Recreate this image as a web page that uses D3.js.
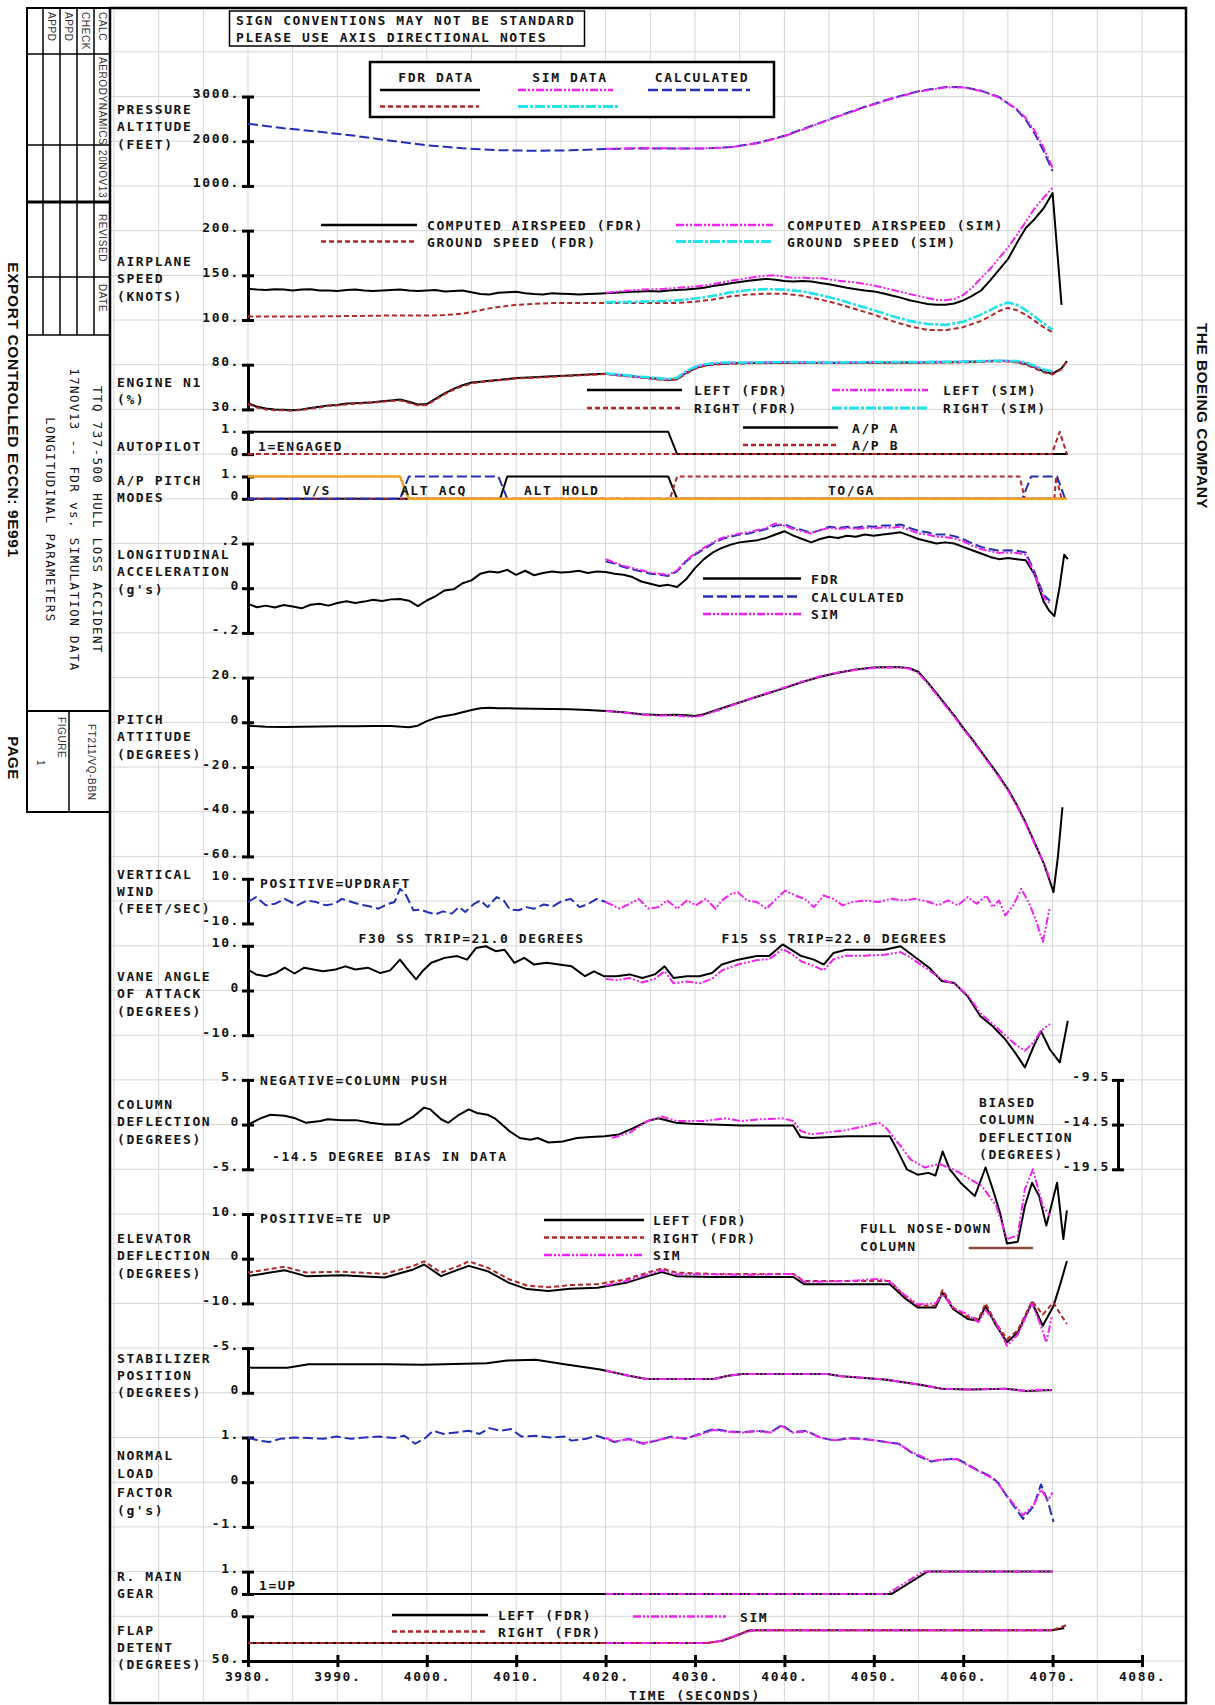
<!DOCTYPE html>
<html><head><meta charset="utf-8">
<script src="https://cdn.jsdelivr.net/npm/d3@7/dist/d3.min.js"></script>
<style>
html,body{margin:0;padding:0;background:#fff}
.t{font-family:'DejaVu Sans Mono',monospace;font-weight:bold;font-size:13px;letter-spacing:1.6px;fill:#141414}
.b{font-family:'Liberation Sans',Arial,sans-serif;font-weight:normal;fill:#333}
.h{font-family:'Liberation Sans',Arial,sans-serif;font-weight:bold;fill:#111}
</style></head><body>
<svg id="c" width="1215" height="1705" xmlns="http://www.w3.org/2000/svg"></svg>
<script>
// ---------------- DATA (time in seconds, value) ----------------
const xTicks=[3980,3990,4000,4010,4020,4030,4040,4050,4060,4070,4080];
const altTicks=[1000,2000,3000], spdTicks=[100,150,200], n1Ticks=[30,80], binTicks=[0,1];
const accTicks=[-0.2,0,0.2], pitchTicks=[-60,-40,-20,0,20], windTicks=[-10,10], aoaTicks=[-10,0,10];
const colTicks=[-5,0,5], colBiasTicks=[-19.5,-14.5,-9.5], elevTicks=[-10,0,10], stabTicks=[-5,0];
const nzTicks=[-1,0,1], flapTicks=[0,50];

const altCalc=[[3980,2390],[3984,2290],[3988,2210],[3992,2120],[3996,2010],[4000,1910],[4004,1840],[4008,1800],[4012,1785],[4016,1795],[4020,1825],[4024,1840],[4028,1835],[4031,1835],[4034,1870],[4037,1960],[4040,2120],[4043,2340],[4046,2560],[4049,2770],[4052,2960],[4055,3120],[4058,3210],[4060,3210],[4062,3130],[4064,2990],[4066,2700],[4067,2480],[4068,2170],[4069,1780],[4070,1330]];
const altSim=[[4020,1830],[4024,1845],[4028,1838],[4031,1838],[4034,1865],[4037,1955],[4040,2110],[4043,2330],[4046,2550],[4049,2760],[4052,2950],[4055,3110],[4058,3200],[4060,3200],[4062,3125],[4064,2975],[4066,2720],[4067,2520],[4068,2230],[4069,1850],[4070,1400]];

const casFdr=[[3980,135],[3981,134],[3982,133.5],[3983,134.5],[3984,134],[3985,133],[3986,134],[3987,134.5],[3988,133],[3989,133],[3990,132.5],[3991,133.5],[3992,134],[3993,133],[3994,132.5],[3995,133],[3996,133.5],[3997,134],[3998,133],[3999,132.5],[4000,133],[4001,133.5],[4002,132],[4003,132.5],[4004,133],[4005,131],[4006,129],[4007,128.5],[4008,130.5],[4009,131],[4010,131.5],[4011,130],[4012,129],[4013,128.5],[4014,130],[4015,129.5],[4016,129],[4017,128.5],[4018,129],[4019,129.5],[4020,130],[4021,130.5],[4022,131],[4023,131.5],[4024,132],[4025,132.5],[4026,132],[4027,133],[4028,133.5],[4029,134],[4030,135],[4031,136],[4032,138],[4033,139.5],[4034,141],[4035,142.5],[4036,144],[4037,145],[4038,146],[4039,145],[4040,143.5],[4041,143],[4042,143.5],[4043,143],[4044,141.5],[4045,140],[4046,138],[4047,136],[4048,134.5],[4049,133],[4050,132],[4051,130],[4052,127.5],[4053,125],[4054,122],[4055,120],[4056,118],[4057,117],[4058,117],[4059,118.5],[4060,122],[4061,127],[4062,133],[4063,144],[4064,156],[4065,168],[4066,186],[4067,203],[4068,213],[4069,225],[4070,242],[4071,117]];
const casSim=[[4020,130.5],[4022,132.5],[4024,134],[4026,134.5],[4028,136],[4030,137.5],[4032,140],[4034,144],[4036,147],[4037,148.5],[4038,149.5],[4039,150],[4040,148.5],[4041,147],[4042,147.5],[4043,146.5],[4044,147],[4045,145.5],[4046,144],[4047,143],[4048,142],[4050,138.5],[4052,134],[4054,129],[4056,124.5],[4057,122.5],[4058,122],[4059,123.5],[4060,128],[4061,136],[4062,147],[4063,157],[4064,169],[4065,181],[4066,195],[4067,210],[4068,225],[4069,237],[4070,248]];
const gsFdr=[[3980,104],[3984,104],[3988,104],[3992,104.5],[3996,105],[4000,105],[4002,105.5],[4004,107],[4005,109],[4006,111],[4007,113],[4008,114.5],[4010,117],[4012,118],[4014,119],[4016,119],[4020,119],[4024,119],[4028,119],[4030,120.5],[4032,123],[4034,126.5],[4036,128.5],[4038,129.5],[4040,129.5],[4042,127],[4044,123],[4046,118],[4048,112],[4050,106],[4052,99],[4054,93],[4056,89],[4058,88.5],[4060,92],[4062,99],[4063,104],[4064,110],[4065,113.5],[4066,111],[4067,106],[4068,99],[4069,92],[4070,86]];
const gsSim=[[4020,120],[4022,120],[4024,120.5],[4026,121],[4028,122],[4030,124],[4032,127],[4034,131],[4036,133.5],[4038,134.5],[4040,134],[4042,132],[4044,128],[4046,123],[4048,117],[4050,111],[4052,104.5],[4054,99],[4056,95.5],[4058,94.5],[4060,98],[4062,106],[4063,111],[4064,116],[4065,119.5],[4066,117],[4067,111],[4068,104],[4069,96],[4070,89]];

const n1LeftFdr=[[3980,37],[3981,33],[3982,31],[3983,30],[3984,29.5],[3985,29],[3986,30],[3987,31.5],[3988,33],[3989,34.5],[3990,35],[3991,36.5],[3992,37],[3993,37.5],[3994,38],[3995,39],[3996,40],[3997,41],[3998,38.5],[3999,35.5],[4000,36],[4001,42],[4002,48],[4003,53],[4004,57],[4005,60],[4006,61],[4007,62],[4008,63],[4009,64],[4010,65],[4012,66],[4014,67],[4016,68],[4018,69],[4020,70],[4022,68],[4024,66],[4026,64],[4027,63],[4028,64],[4029,71],[4030,76],[4031,79],[4032,80.5],[4034,81.5],[4036,82],[4040,82.5],[4045,82],[4050,82.5],[4055,82.5],[4060,83],[4063,84],[4065,84],[4066,83],[4067,81],[4068,77],[4069,72.5],[4070,70],[4071,76],[4071.6,84]];
const n1RightFdr=[[3980,36],[3981,32],[3982,30],[3983,29],[3984,29],[3985,28.5],[3986,29.5],[3987,31],[3988,32],[3989,34],[3990,34.5],[3991,35.5],[3992,36.5],[3993,37],[3994,37.5],[3995,38.5],[3996,39.5],[3997,40],[3998,37.5],[3999,34.5],[4000,35],[4001,41],[4002,47],[4003,52],[4004,56],[4005,59],[4006,60.5],[4007,61.5],[4008,62.5],[4009,63.5],[4010,64.5],[4012,65.5],[4014,66.5],[4016,67.5],[4018,68.5],[4020,69.5],[4022,67.5],[4024,65.5],[4026,63.5],[4027,62.5],[4028,63.5],[4029,70],[4030,75.5],[4031,78.5],[4032,80],[4034,81],[4036,81.5],[4040,82],[4045,82],[4050,82],[4055,82.5],[4060,82.5],[4063,83.5],[4065,83.5],[4066,82.5],[4067,80],[4068,76],[4069,71.5],[4070,69],[4071,75],[4071.6,84.5]];
const n1LeftSim=[[4020,70],[4022,68],[4024,66],[4026,64.5],[4027,63.5],[4028,65],[4029,72],[4030,77],[4031,80],[4033,82],[4036,82.5],[4040,83],[4045,82.5],[4050,83],[4055,83],[4060,83.5],[4064,84.5],[4066,84],[4067,82],[4068,78],[4069,74],[4070,72]];
const n1RightSim=[[4020,70.5],[4022,68.5],[4024,66.5],[4026,65],[4027,64],[4028,65.5],[4029,72.5],[4030,77.5],[4031,80.5],[4033,82.5],[4036,82.5],[4040,83],[4045,82.5],[4050,83],[4055,83],[4060,83.5],[4064,84.5],[4066,84],[4067,82.5],[4068,78.5],[4069,74.5],[4070,72.5]];

const apA=[[3980,1],[4027,1],[4028,0],[4071.7,0]];
const apB=[[3980,0],[4069.9,0],[4070.8,1],[4071.6,0],[4071.7,0]];
const modeVS=[[3980,1],[3997,1],[3998,0],[4071.6,0]];
const modeAltAcq=[[3980,0],[3997,0],[3998,1],[4008,1],[4009,0],[4066.6,0],[4067.6,1],[4070.5,1],[4071.4,0]];
const modeAltHold=[[3980,0],[4008.2,0],[4009,1],[4027,1],[4028,0],[4071.4,0]];
const modeToga=[[3980,0],[4027.2,0],[4028,1],[4066.3,1],[4066.9,0],[4070.2,0],[4070.4,1],[4071,0]];
const modeNames=[['V/S',3987.7],['ALT ACQ',4000.8],['ALT HOLD',4015.1],['TO/GA',4047.5]];

const accFdr=[[3980,-0.07],[3981,-0.085],[3982,-0.078],[3983,-0.086],[3984,-0.075],[3985,-0.082],[3986,-0.09],[3987,-0.074],[3988,-0.07],[3989,-0.078],[3990,-0.066],[3991,-0.058],[3992,-0.066],[3993,-0.06],[3994,-0.052],[3995,-0.057],[3996,-0.05],[3997,-0.048],[3998,-0.056],[3999,-0.08],[4000,-0.055],[4001,-0.035],[4002,-0.01],[4003,-0.005],[4004,0.022],[4005,0.035],[4006,0.065],[4007,0.075],[4008,0.07],[4009,0.082],[4010,0.06],[4011,0.078],[4012,0.058],[4013,0.068],[4014,0.075],[4015,0.07],[4016,0.072],[4017,0.078],[4018,0.068],[4019,0.075],[4020,0.072],[4021,0.065],[4022,0.06],[4023,0.05],[4024,0.03],[4025,0.02],[4026,0.01],[4027,0.015],[4028,0.005],[4029,0.04],[4030,0.09],[4031,0.13],[4032,0.16],[4033,0.18],[4034,0.195],[4035,0.205],[4036,0.21],[4037,0.215],[4038,0.225],[4039,0.24],[4040,0.255],[4041,0.235],[4042,0.22],[4043,0.205],[4044,0.22],[4045,0.23],[4046,0.225],[4047,0.235],[4048,0.23],[4049,0.24],[4050,0.235],[4051,0.24],[4052,0.245],[4053,0.25],[4054,0.235],[4055,0.22],[4056,0.21],[4057,0.2],[4058,0.205],[4059,0.2],[4060,0.185],[4061,0.17],[4062,0.155],[4063,0.14],[4064,0.13],[4065,0.135],[4066,0.13],[4067,0.125],[4068,0.06],[4069,-0.06],[4069.6,-0.1],[4070.2,-0.125],[4070.8,0.01],[4071.3,0.15],[4071.7,0.13]];
const accCalc=[[4020,0.12],[4021,0.11],[4022,0.095],[4023,0.085],[4024,0.075],[4025,0.065],[4026,0.06],[4027,0.055],[4028,0.075],[4029,0.12],[4030,0.15],[4031,0.175],[4032,0.2],[4033,0.22],[4034,0.23],[4035,0.24],[4036,0.245],[4037,0.255],[4038,0.265],[4039,0.28],[4040,0.285],[4041,0.27],[4042,0.26],[4043,0.248],[4044,0.26],[4045,0.275],[4046,0.27],[4047,0.275],[4048,0.27],[4049,0.278],[4050,0.275],[4051,0.28],[4052,0.28],[4053,0.285],[4054,0.27],[4055,0.256],[4056,0.25],[4057,0.24],[4058,0.24],[4059,0.233],[4060,0.22],[4061,0.2],[4062,0.185],[4063,0.175],[4064,0.167],[4065,0.17],[4066,0.168],[4067,0.16],[4068,0.07],[4069,-0.03],[4069.7,-0.056]];
const accSim=[[4020,0.13],[4021,0.115],[4022,0.1],[4023,0.09],[4024,0.08],[4025,0.07],[4026,0.065],[4027,0.06],[4028,0.08],[4029,0.125],[4030,0.155],[4031,0.18],[4032,0.205],[4033,0.225],[4034,0.235],[4035,0.245],[4036,0.25],[4037,0.26],[4038,0.27],[4039,0.29],[4040,0.28],[4041,0.265],[4042,0.255],[4043,0.245],[4044,0.26],[4045,0.27],[4046,0.265],[4047,0.27],[4048,0.265],[4049,0.27],[4050,0.268],[4051,0.272],[4052,0.27],[4053,0.275],[4054,0.26],[4055,0.245],[4056,0.24],[4057,0.23],[4058,0.228],[4059,0.222],[4060,0.21],[4061,0.19],[4062,0.175],[4063,0.165],[4064,0.158],[4065,0.16],[4066,0.158],[4067,0.15],[4068,0.06],[4069,-0.04],[4069.7,-0.07]];

const pitchFdr=[[3980,-1.5],[3982,-2],[3984,-2.1],[3986,-2],[3988,-1.9],[3990,-1.8],[3992,-1.8],[3994,-1.7],[3996,-1.7],[3998,-2.2],[3999,-1.5],[4000,0.5],[4001,2],[4002,2.8],[4003,3.5],[4004,4.5],[4005,5.5],[4006,6.3],[4007,6.5],[4008,6.3],[4010,6.2],[4012,6.1],[4014,6],[4016,5.8],[4018,5.5],[4020,5.1],[4022,4.5],[4024,3.6],[4026,3.3],[4028,3.4],[4029,3.1],[4030,2.8],[4031,3.6],[4032,5],[4033,6.3],[4034,7.6],[4036,10.2],[4038,12.8],[4040,15.3],[4042,18],[4044,20.4],[4046,22.2],[4048,23.6],[4050,24.5],[4052,24.7],[4053,24.6],[4054,24.2],[4055,22.5],[4056,18],[4057,13],[4058,8],[4059,3],[4060,-2.5],[4061,-7.5],[4062,-13],[4063,-18.5],[4064,-24],[4065,-30],[4066,-37],[4067,-45],[4068,-54],[4069,-63],[4069.6,-70],[4070.1,-76],[4070.6,-60],[4071.1,-38]];
const pitchSim=[[4020,5.2],[4022,4.4],[4024,3.4],[4026,3.0],[4028,3.1],[4029,2.6],[4030,2.4],[4031,3.2],[4032,4.6],[4034,7.4],[4036,10.3],[4038,13],[4040,15.6],[4042,18.2],[4044,20.6],[4046,22.3],[4048,23.4],[4050,24.3],[4052,24.6],[4053,24.5],[4054,24],[4055,22],[4056,17.5],[4057,12.5],[4058,7.5],[4059,2.5],[4060,-3],[4061,-8],[4062,-13.5],[4063,-19],[4064,-24.5],[4065,-30.5],[4066,-37.5],[4067,-45.5],[4068,-54.5],[4069,-63],[4069.8,-71]];

const windCalc=[[3980,-0.4],[3980.9,1.8],[3982,-1.9],[3983,-1.2],[3984.1,1.0],[3984.8,-0.4],[3985.5,-1.9],[3986.6,0.3],[3987.6,-0.4],[3988.7,-1.9],[3989.7,-1.2],[3990.5,1.0],[3991.6,-0.4],[3992.6,-1.6],[3993.7,-2.4],[3994.6,-3.4],[3995.5,-1.5],[3996.4,-0.4],[3997,5.5],[3997.6,3.3],[3998.5,-4.1],[3999.3,-3.8],[4000.1,-5.0],[4001,-5.9],[4001.8,-4.6],[4002.8,-5.6],[4003.6,-2.7],[4004.3,-4.9],[4005.2,-1.5],[4006,0.3],[4006.8,-2.7],[4007.8,1.8],[4008.6,0.3],[4009.3,-3.8],[4010.3,-4.1],[4011.1,-2.7],[4012,-3.4],[4013.1,-1.5],[4014.1,-2.4],[4015.1,0],[4016.1,1.0],[4017.1,-2.7],[4018.1,-1.2],[4019,1.0],[4020,-0.4]];
const windSim=[[4020,-0.4],[4021.6,-3.4],[4022.7,-1.2],[4023.7,1.0],[4024.8,-3.4],[4025.9,-2.7],[4026.9,0.3],[4028,-3.4],[4029.1,0.3],[4030.1,-1.9],[4031.2,1.0],[4032.3,-3.4],[4033,0.3],[4034.1,3.3],[4034.8,4.0],[4035.8,0.3],[4036.9,-0.4],[4038,-3.4],[4039.1,1.0],[4040.1,4.7],[4041.2,2.5],[4042.3,1.0],[4043.3,-2.7],[4044.4,2.5],[4045.5,1.0],[4046.5,-1.9],[4047.6,-0.4],[4049,0.3],[4050.5,-0.4],[4051.9,1.0],[4053.3,0.3],[4054.7,1.0],[4056.2,-0.4],[4057.2,-1.9],[4058.3,0.3],[4059.4,-1.9],[4060.5,1.8],[4061.5,-1.2],[4062.6,2.5],[4063.3,-2.7],[4064,0.3],[4064.7,-6.4],[4065.6,-1.9],[4066.5,5.5],[4067.4,-1.2],[4068.2,-9.3],[4068.9,-18.2],[4069.7,-2.7]];

const aoaFdr=[[3980,4.7],[3980.9,3.6],[3982,3.2],[3983.1,3.9],[3984.1,5.1],[3985.2,3.8],[3986.3,5.1],[3987.3,4.7],[3988.4,4.3],[3989.8,4.7],[3990.9,5.4],[3992,4.7],[3993.4,5.1],[3994.8,3.9],[3995.9,4.5],[3997,6.9],[3997.7,5.1],[3998.8,2.5],[3999.5,4.3],[4000.5,6.2],[4002,7.3],[4003.4,7.7],[4004.5,6.9],[4005.5,9.5],[4006.6,9.9],[4007.7,8.8],[4008.7,9.1],[4009.8,6.2],[4010.9,7.3],[4012,5.8],[4013.4,6.2],[4014.8,5.8],[4016.2,5.4],[4017.7,3.2],[4018.7,4.3],[4019.8,3.2],[4021.2,3.2],[4022.7,3.6],[4024.1,2.8],[4025.5,3.6],[4026.6,5.4],[4027.6,2.8],[4029.1,3.2],[4030.5,3.2],[4031.9,3.9],[4033,5.8],[4034.8,6.9],[4036.9,7.7],[4038.3,7.7],[4039.8,10.3],[4040.8,9.1],[4041.9,7.7],[4043.3,6.9],[4044.4,5.8],[4045.5,8.4],[4046.9,9.1],[4049,9.1],[4051.2,9.1],[4053,9.9],[4054,8.4],[4056.2,5.1],[4057.6,2.1],[4059,1.7],[4060.5,-1.3],[4061.9,-5.7],[4063.3,-8.0],[4064.7,-10.9],[4065.8,-13.9],[4066.9,-17.2],[4067.9,-12.4],[4068.7,-9.1],[4069.7,-13.2],[4070.8,-16.1],[4071.7,-6.8]];
const aoaSim=[[4020,2.6],[4021.2,2.3],[4022.7,2.8],[4024.1,1.8],[4025.5,2.6],[4026.6,4.3],[4027.6,1.6],[4029.1,2.0],[4030.5,1.6],[4031.9,2.6],[4033,4.5],[4034.8,5.8],[4036.9,6.8],[4038.3,7.0],[4039.8,9.3],[4040.8,8.2],[4041.9,6.5],[4043.3,5.5],[4044.4,4.5],[4045.5,7.0],[4046.9,7.8],[4049,7.8],[4051.2,8.0],[4053,8.6],[4054,7.5],[4056.2,4.5],[4057.6,2.5],[4059,1.5],[4060.5,-1.0],[4061.9,-5.0],[4063.3,-7.5],[4064.7,-10.0],[4065.8,-12.0],[4066.9,-13.5],[4067.9,-11.5],[4068.7,-9.0],[4069.7,-7.5]];

const colFdr=[[3980,0],[3981.4,0.7],[3982.5,1.1],[3984.1,1.0],[3985.3,0.7],[3986.5,0.2],[3988.1,0.4],[3988.9,0.6],[3990.5,0.5],[3992.1,0.5],[3993.7,0.2],[3995.3,0],[3996.9,0],[3998.5,0.9],[3999.7,1.9],[4000.4,1.7],[4001.6,0.6],[4002.4,0.2],[4003.6,1.1],[4004.7,1.7],[4005.6,1.3],[4006.8,1.1],[4007.6,0.7],[4009.2,-0.7],[4010.4,-1.5],[4011.6,-1.7],[4012.4,-1.5],[4013.6,-2.0],[4015.2,-1.9],[4016.8,-1.5],[4018.3,-1.4],[4019.9,-1.3],[4021.5,-1.1],[4023.1,-0.4],[4024.7,0.4],[4025.9,0.7],[4027.1,0.4],[4027.9,0.2],[4029.5,0.1],[4031.9,0],[4035.1,-0.1],[4038.2,-0.1],[4041,-0.1],[4041.8,-1.4],[4043,-1.5],[4047,-1.3],[4051.8,-1.3],[4052.6,-2.8],[4053.7,-5.0],[4054.9,-5.6],[4056.1,-5.4],[4056.9,-5.7],[4057.7,-3.0],[4058.5,-5.0],[4059.7,-6.5],[4061.3,-8.0],[4062.5,-4.8],[4063.3,-7.2],[4064.1,-9.8],[4064.9,-13.3],[4066.1,-13.1],[4066.9,-9.1],[4067.7,-6.5],[4068.5,-8.0],[4069.3,-11.3],[4070.5,-6.5],[4071.2,-12.8],[4071.6,-9.6]];
const colSim=[[4020.7,-1.5],[4022.7,-0.9],[4024.7,0.4],[4026.3,0.9],[4027.9,0.4],[4031.1,0.4],[4033.5,0.7],[4035.1,0.4],[4037.4,0.6],[4039.8,0.7],[4041,0.4],[4041.8,-0.7],[4043,-1.1],[4047,-0.6],[4050.6,0.2],[4051.4,-0.4],[4053,-2.4],[4054.1,-3.9],[4055.7,-4.8],[4057.3,-4.4],[4058.9,-5.0],[4060.1,-5.7],[4062.1,-6.9],[4063.7,-9.1],[4064.9,-12.8],[4066.1,-12.4],[4066.9,-7.2],[4067.8,-5.0],[4068.9,-9.1],[4069.7,-10.2]];
const noseDownCol=[[4060.6,-13.8],[4067.8,-13.8]];

const elevLeftFdr=[[3980,-3.9],[3982.5,-3.1],[3984.1,-2.6],[3986.5,-3.9],[3990.5,-3.7],[3995.3,-4.2],[3998.5,-2.4],[3999.7,-1.3],[4001.6,-3.9],[4003.6,-2.4],[4004.7,-1.6],[4006.8,-2.8],[4009.2,-5.4],[4011.2,-6.8],[4013.6,-7.2],[4016,-6.7],[4019.1,-6.5],[4022.3,-5.4],[4024.7,-3.9],[4026.3,-3.0],[4027.9,-3.9],[4031.9,-4.1],[4041,-4.1],[4042.2,-5.7],[4051.8,-5.7],[4053.4,-8.7],[4054.9,-10.9],[4056.9,-10.9],[4057.7,-7.6],[4058.9,-11.3],[4060.5,-13.5],[4061.7,-13.9],[4062.5,-10.6],[4063.7,-15.0],[4064.9,-18.7],[4066.1,-16.5],[4067.7,-9.8],[4068.9,-15.0],[4070.1,-10.6],[4070.9,-5.4],[4071.6,-0.5]];
const elevRightFdr=[[3980,-3.1],[3982.5,-2.3],[3984.1,-1.8],[3986.5,-3.1],[3990.5,-2.9],[3995.3,-3.4],[3998.5,-1.6],[3999.7,-0.6],[4001.6,-3.1],[4003.6,-1.6],[4004.7,-0.6],[4006.8,-2.0],[4009.2,-4.6],[4011.2,-6.0],[4013.6,-6.4],[4016,-5.9],[4019.1,-5.7],[4022.3,-4.6],[4024.7,-3.1],[4026.3,-2.2],[4027.9,-3.1],[4031.9,-3.4],[4041,-3.4],[4042.2,-5.0],[4051.8,-5.0],[4053.4,-8.3],[4054.9,-10.5],[4056.9,-10.5],[4057.7,-7.0],[4058.9,-11.0],[4060.5,-13.0],[4061.7,-13.5],[4062.5,-10.0],[4063.7,-14.5],[4064.9,-18.0],[4066.1,-16.0],[4067.7,-9.5],[4068.9,-12.5],[4070.1,-9.8],[4070.9,-12.5],[4071.6,-14.6]];
const elevSim=[[4020,-6.0],[4022.3,-5.0],[4024.7,-3.5],[4026.3,-2.6],[4027.9,-3.5],[4031.9,-3.5],[4036,-3.6],[4041,-3.4],[4042.2,-5.2],[4047,-5.0],[4050.6,-4.5],[4051.8,-5.2],[4053.4,-8.0],[4054.9,-10.2],[4056.9,-10.0],[4057.7,-8.0],[4058.9,-11.0],[4060.5,-12.5],[4061.7,-14.2],[4062.5,-11.5],[4063.7,-14.5],[4064.9,-19.5],[4066.1,-17.0],[4067.7,-10.0],[4068.5,-14.0],[4069.3,-18.7],[4069.9,-13.0]];

const stabFdr=[[3980,-2.8],[3984.4,-2.8],[3986.8,-3.2],[3995.5,-3.2],[3999.5,-3.15],[4006.7,-3.3],[4009,-3.6],[4012.2,-3.7],[4015.4,-3.2],[4019.4,-2.6],[4022.6,-1.9],[4024.6,-1.55],[4032.1,-1.55],[4033.7,-1.9],[4035.3,-2.1],[4044.8,-2.1],[4046.4,-1.85],[4051.2,-1.5],[4055.2,-0.9],[4057.6,-0.45],[4060.7,-0.37],[4064.7,-0.45],[4067.1,-0.2],[4069.9,-0.3]];
const stabSim=[[4020,-2.5],[4022.6,-1.9],[4024.6,-1.55],[4032.1,-1.55],[4033.7,-1.9],[4035.3,-2.1],[4044.8,-2.1],[4046.4,-1.85],[4051.2,-1.5],[4055.2,-0.9],[4057.6,-0.45],[4060.7,-0.37],[4064.7,-0.45],[4067.1,-0.2],[4068.5,-0.35],[4069.9,-0.25]];

const nzCalc=[[3980,1.0],[3981.2,0.93],[3982.4,0.9],[3983.6,0.97],[3985.2,1.0],[3986.8,0.99],[3988.4,0.97],[3989.9,1.02],[3991.5,0.97],[3993.1,1.0],[3994.7,1.02],[3996.3,0.99],[3997.5,1.04],[3998.7,0.86],[3999.9,1.0],[4000.7,1.15],[4001.9,1.08],[4003.5,1.12],[4004.7,1.15],[4005.9,1.08],[4007,1.21],[4008.2,1.15],[4009.4,1.19],[4010.6,1.02],[4012.2,1.04],[4013.8,1.0],[4015.4,1.02],[4016.2,0.93],[4017.8,0.97],[4019,1.04],[4020,0.97],[4021,0.9],[4022.6,0.97],[4024.2,0.86],[4025.7,0.93],[4027.3,1.02],[4028.9,0.97],[4030.5,1.08],[4032.1,1.19],[4033.7,1.14],[4035.3,1.12],[4036.9,1.15],[4038.5,1.12],[4039.7,1.28],[4040.9,1.12],[4042.5,1.15],[4044,1.0],[4045.6,0.93],[4047.2,0.99],[4048.8,0.97],[4050.4,0.93],[4052.8,0.86],[4054.4,0.64],[4056.4,0.46],[4057.6,0.5],[4059.2,0.53],[4060.3,0.42],[4061.5,0.28],[4063.1,0.13],[4063.9,-0.01],[4065.1,-0.38],[4066.7,-0.82],[4067.9,-0.53],[4068.7,-0.05],[4069.5,-0.45],[4070.1,-0.89]];
const nzSim=[[4020,0.99],[4021,0.91],[4022.6,0.96],[4024.2,0.87],[4025.7,0.94],[4027.3,1.0],[4028.9,0.98],[4030.5,1.06],[4032.1,1.17],[4033.7,1.13],[4035.3,1.11],[4036.9,1.14],[4038.5,1.11],[4039.7,1.26],[4040.9,1.11],[4042.5,1.13],[4044,1.0],[4045.6,0.94],[4047.2,0.98],[4048.8,0.96],[4050.4,0.93],[4052.8,0.85],[4054.4,0.66],[4056.4,0.48],[4057.6,0.5],[4059.2,0.52],[4060.3,0.4],[4061.5,0.27],[4063.1,0.11],[4063.9,-0.03],[4065.1,-0.36],[4066.7,-0.74],[4067.9,-0.5],[4068.7,-0.16],[4069.5,-0.4],[4070,-0.23]];

const gearFdr=[[3980,0],[4052,0],[4056,1],[4070,1]];
const gearSim=[[4020,0],[4051.5,0],[4055.5,1],[4070,1]];
const flapLeftFdr=[[3980,30],[4031.3,30],[4033,27.5],[4034.5,22],[4036,16],[4037,15.5],[4070,15.5],[4071.3,13]];
const flapRightFdr=[[3980,30],[4031.3,30],[4033,27.5],[4034.5,22],[4036,16],[4037,15.5],[4070,15.5],[4071.5,10]];
const flapSim=[[4020,30],[4031,30],[4032.5,28.5],[4034.5,22],[4036.5,15.5],[4070,15.5]];

// ---------------- LAYOUT ----------------
const svg=d3.select('#c');
const X0=248,X1=1142,AY=1661,G=44.7;
const FR={l:110,t:8,r:1186,b:1703};
const x=d3.scaleLinear().domain([3980,4080]).range([X0,X1]);
const gy=d3.scaleLinear().domain([0,1]).range([AY,AY-G]);
const mk=(d0,d1,n0,n1)=>d3.scaleLinear().domain([d0,d1]).range([gy(n0),gy(n1)]);
const Y={alt:mk(1000,3000,33,35),spd:mk(100,200,30,32),n1:mk(30,80,28,29),ap:mk(0,1,27,27.5),mode:mk(0,1,26,26.5),
 acc:mk(-0.2,0.2,23,25),pitch:mk(-60,20,18,22),wind:mk(-10,10,16.5,17.5),aoa:mk(-10,10,14,16),col:mk(-5,5,11,13),
 colB:mk(-19.5,-9.5,11,13),elev:mk(-10,10,8,10),stab:mk(0,-5,6,7),nz:mk(-1,1,3,5),gear:mk(0,1,1.5,2),flap:mk(50,0,0,1)};

const ST={fdr:{c:'#000',w:2,d:null},fdrR:{c:'#b0282a',w:2,d:'5,3'},sim:{c:'#f022f0',w:2,d:'8,2,2,2,2,2'},
 simR:{c:'#22e2ea',w:2.6,d:'10,2,3,2'},calc:{c:'#2330b6',w:2,d:'10,4'},vs:{c:'#f4a224',w:2.5,d:null},brown:{c:'#8a4a3c',w:2.5,d:null}};

// grid
const gridT=d3.range(3965,4101,5).filter(t=>x(t)>FR.l+1&&x(t)<FR.r-1);
const gridN=d3.range(0,37);
const gg=svg.append('g').attr('stroke','#d6d6d6').attr('stroke-width',1);
gg.selectAll('line.v').data(gridT).join('line').attr('x1',d=>x(d)).attr('x2',d=>x(d)).attr('y1',FR.t).attr('y2',FR.b);
gg.selectAll('line.h').data(gridN).join('line').attr('y1',d=>gy(d)).attr('y2',d=>gy(d)).attr('x1',FR.l).attr('x2',FR.r);

// frame
svg.append('rect').attr('x',FR.l).attr('y',FR.t).attr('width',FR.r-FR.l).attr('height',FR.b-FR.t).attr('fill','none').attr('stroke','#000').attr('stroke-width',2.5);

function T(s,xp,yp,o={}){const e=svg.append('text').attr('class',o.cls||'t').attr('x',xp).attr('y',yp).text(s);
 if(o.anchor)e.attr('text-anchor',o.anchor); if(o.size)e.style('font-size',o.size+'px'); if(o.ls!=null)e.style('letter-spacing',o.ls+'px');
 if(o.rot){e.attr('x',0).attr('y',0).attr('transform',`translate(${xp},${yp}) rotate(${o.rot})`).attr('dominant-baseline','central');}
 return e;}
const fmt=v=>v===0?'0':(Number.isInteger(v)?v+'.':String(v).replace('0.','.'));
function yAxis(sc,ticks,xp,f){
 const g=svg.append('g').attr('transform',`translate(${xp},0)`)
  .call(d3.axisLeft(sc).tickValues(ticks).tickFormat(f||fmt).tickSizeOuter(0).tickSizeInner(6).tickPadding(2));
 g.attr('font-family',null).attr('font-size',null);
 g.select('.domain').attr('stroke','#000').attr('stroke-width',3);
 g.selectAll('.tick line').attr('x1',6).attr('x2',-6).attr('stroke','#000').attr('stroke-width',3);
 g.selectAll('.tick text').attr('class','t').attr('dy','0.08em').attr('fill','#141414');
}
function plot(data,sc,st){svg.append('path').datum(data).attr('d',d3.line().x(d=>x(d[0])).y(d=>sc(d[1])))
 .attr('fill','none').attr('stroke',st.c).attr('stroke-width',st.w).attr('stroke-dasharray',st.d).attr('stroke-linejoin','round');}
function leg(x1,x2,yp,st){svg.append('line').attr('x1',x1).attr('x2',x2).attr('y1',yp).attr('y2',yp)
 .attr('stroke',st.c).attr('stroke-width',st.w+0.6).attr('stroke-dasharray',st.d);}

// axes
yAxis(Y.alt,altTicks,X0); yAxis(Y.spd,spdTicks,X0); yAxis(Y.n1,n1Ticks,X0); yAxis(Y.ap,binTicks,X0); yAxis(Y.mode,binTicks,X0);
yAxis(Y.acc,accTicks,X0); yAxis(Y.pitch,pitchTicks,X0); yAxis(Y.wind,windTicks,X0); yAxis(Y.aoa,aoaTicks,X0);
yAxis(Y.col,colTicks,X0); yAxis(Y.colB,colBiasTicks,1118,v=>String(v)); yAxis(Y.elev,elevTicks,X0); yAxis(Y.stab,stabTicks,X0);
yAxis(Y.nz,nzTicks,X0); yAxis(Y.gear,binTicks,X0); yAxis(Y.flap,flapTicks,X0);
const xa=svg.append('g').attr('transform',`translate(0,${AY})`).call(d3.axisBottom(x).tickValues(xTicks).tickFormat(v=>v+'.').tickSizeOuter(0).tickSizeInner(6).tickPadding(5));
xa.attr('font-family',null).attr('font-size',null);
xa.select('.domain').attr('stroke','#000').attr('stroke-width',3);
xa.selectAll('.tick line').attr('y1',-6).attr('y2',6).attr('stroke','#000').attr('stroke-width',3);
xa.selectAll('.tick text').attr('class','t').attr('fill','#141414');

// series
plot(altCalc,Y.alt,ST.calc); plot(altSim,Y.alt,ST.sim);
plot(gsFdr,Y.spd,ST.fdrR); plot(casFdr,Y.spd,ST.fdr); plot(gsSim,Y.spd,ST.simR); plot(casSim,Y.spd,ST.sim);
plot(n1LeftFdr,Y.n1,ST.fdr); plot(n1RightFdr,Y.n1,ST.fdrR); plot(n1LeftSim,Y.n1,ST.sim); plot(n1RightSim,Y.n1,ST.simR);
plot(apA,Y.ap,ST.fdr); plot(apB,Y.ap,ST.fdrR);
plot(modeAltHold,Y.mode,ST.fdr); plot(modeToga,Y.mode,ST.fdrR); plot(modeAltAcq,Y.mode,ST.calc); plot(modeVS,Y.mode,ST.vs);
plot(accFdr,Y.acc,ST.fdr); plot(accCalc,Y.acc,ST.calc); plot(accSim,Y.acc,ST.sim);
plot(pitchFdr,Y.pitch,ST.fdr); plot(pitchSim,Y.pitch,ST.sim);
plot(windCalc,Y.wind,ST.calc); plot(windSim,Y.wind,ST.sim);
plot(aoaFdr,Y.aoa,ST.fdr); plot(aoaSim,Y.aoa,ST.sim);
plot(colFdr,Y.col,ST.fdr); plot(colSim,Y.col,ST.sim); plot(noseDownCol,Y.col,ST.brown);
plot(elevLeftFdr,Y.elev,ST.fdr); plot(elevRightFdr,Y.elev,ST.fdrR); plot(elevSim,Y.elev,ST.sim);
plot(stabFdr,Y.stab,ST.fdr); plot(stabSim,Y.stab,ST.sim);
plot(nzCalc,Y.nz,ST.calc); plot(nzSim,Y.nz,ST.sim);
plot(gearFdr,Y.gear,ST.fdr); plot(gearSim,Y.gear,ST.sim);
plot(flapLeftFdr,Y.flap,ST.fdr); plot(flapRightFdr,Y.flap,ST.fdrR); plot(flapSim,Y.flap,ST.sim);

// mode names
modeNames.forEach(([s,t])=>T(s,x(t),Y.mode(0.25)+2,{anchor:'middle'}));

// panel labels
const LX=117;
[[['PRESSURE','ALTITUDE','(FEET)'],114],[['AIRPLANE','SPEED','(KNOTS)'],266],[['ENGINE N1','(%)'],387],[['AUTOPILOT'],451],
 [['A/P PITCH','MODES'],485],[['LONGITUDINAL','ACCELERATION','(g\'s)'],559],[['PITCH','ATTITUDE','(DEGREES)'],724],
 [['VERTICAL','WIND','(FEET/SEC)'],878.5],[['VANE ANGLE','OF ATTACK','(DEGREES)'],981],[['COLUMN','DEFLECTION','(DEGREES)'],1109],
 [['ELEVATOR','DEFLECTION','(DEGREES)'],1243],[['STABILIZER','POSITION','(DEGREES)'],1362.5],[['NORMAL','LOAD','FACTOR','(g\'s)'],1460],
 [['R. MAIN','GEAR'],1581],[['FLAP','DETENT','(DEGREES)'],1634.5]].forEach(([ls,y0])=>{
  const step=ls.length===4?18.3:17.4; ls.forEach((s,i)=>T(s,LX,y0+i*step));});

// sign box
svg.append('rect').attr('x',229.5).attr('y',11).attr('width',355).attr('height',35).attr('fill','#fff').attr('stroke','#000').attr('stroke-width',1.5);
T('SIGN CONVENTIONS MAY NOT BE STANDARD',236,25); T('PLEASE USE AXIS DIRECTIONAL NOTES',236,41.5);

// top legend
svg.append('rect').attr('x',370).attr('y',62).attr('width',404).attr('height',55).attr('fill','#fff').attr('stroke','#000').attr('stroke-width',2.5);
T('FDR DATA',436,82,{anchor:'middle'}); T('SIM DATA',570,82,{anchor:'middle'}); T('CALCULATED',702,82,{anchor:'middle'});
leg(380,480,90,ST.fdr); leg(518,613,90,ST.sim); leg(648,750,90,ST.calc); leg(380,479,106.5,ST.fdrR); leg(518,619,106.5,ST.simR);

// speed legend
leg(321,417,225,ST.fdr); T('COMPUTED AIRSPEED (FDR)',427,230); leg(321,417,241.5,ST.fdrR); T('GROUND SPEED (FDR)',427,246.5);
leg(676,773,225,ST.sim); T('COMPUTED AIRSPEED (SIM)',787,230); leg(676,773,241.5,ST.simR); T('GROUND SPEED (SIM)',787,246.5);
// N1 legend
leg(587,682,390,ST.fdr); T('LEFT (FDR)',694,395); leg(587,682,408,ST.fdrR); T('RIGHT (FDR)',694,413);
leg(832,928,390,ST.sim); T('LEFT (SIM)',943,395); leg(832,928,408,ST.simR); T('RIGHT (SIM)',943,413);
// autopilot legend
leg(743,838,427.5,ST.fdr); T('A/P A',852,432.5); leg(743,838,445,ST.fdrR); T('A/P B',852,450);
T('1=ENGAGED',258,451);
// accel legend
leg(703,801,578.5,ST.fdr); T('FDR',811,583.5); leg(703,801,596.5,ST.calc); T('CALCULATED',811,601.5); leg(703,801,614,ST.sim); T('SIM',811,619);
// annotations
T('POSITIVE=UPDRAFT',260,888);
T('F30 SS TRIP=21.0 DEGREES',358.5,943); T('F15 SS TRIP=22.0 DEGREES',721.5,943);
T('NEGATIVE=COLUMN PUSH',260,1085); T('-14.5 DEGREE BIAS IN DATA',272,1161);
['BIASED','COLUMN','DEFLECTION','(DEGREES)'].forEach((s,i)=>T(s,979,1107+i*17.4));
T('POSITIVE=TE UP',260,1223);
leg(544,644,1220,ST.fdr); T('LEFT (FDR)',653,1225); leg(544,644,1237.5,ST.fdrR); T('RIGHT (FDR)',653,1242.5); leg(544,644,1255,ST.sim); T('SIM',653,1260);
T('FULL NOSE-DOWN',860,1233); T('COLUMN',860,1251);
T('1=UP',259,1590);
leg(392,488,1615,ST.fdr); T('LEFT (FDR)',498,1620); leg(392,488,1631.5,ST.fdrR); T('RIGHT (FDR)',498,1636.5);
leg(633,726,1616.5,ST.sim); T('SIM',740,1621.5);
T('TIME (SECONDS)',x(4030),1700,{anchor:'middle'});

// right side
T('THE BOEING COMPANY',1202,416,{cls:'h',size:15.5,ls:0.4,anchor:'middle',rot:90});

// left title block
const BL=27,BR=110,BT=8,BB=812;
const tb=svg.append('g').attr('stroke','#000').attr('fill','none');
tb.append('rect').attr('x',BL).attr('y',BT).attr('width',BR-BL).attr('height',BB-BT).attr('stroke-width',2);
[[54,1.5],[145,1.5],[202,3],[277,1.5],[335,1.5],[711,2]].forEach(([yy,w])=>tb.append('line').attr('x1',BL).attr('x2',BR).attr('y1',yy).attr('y2',yy).attr('stroke-width',w));
[43,60,77,94].forEach(xx=>tb.append('line').attr('x1',xx).attr('x2',xx).attr('y1',BT).attr('y2',335).attr('stroke-width',1.5));
tb.append('line').attr('x1',69).attr('x2',69).attr('y1',711).attr('y2',BB).attr('stroke-width',1.5);
const sm=(s,xx,yy)=>T(s,xx,yy,{cls:'b',size:10,ls:0.6,rot:90});
sm('CALC',102,12); sm('CHECK',85.5,12); sm('APPD',68.5,12); sm('APPD',51.5,12);
sm('AERODYNAMICS',102,57); sm('20NOV13',102,150); sm('REVISED',102,214); sm('DATE',102,284);
sm('FT211/VQ-BBN',91,724); sm('FIGURE',61,717); sm('1',40,760);
const big=(s,xx)=>T(s,xx,520,{cls:'t',size:12.5,ls:1.4,anchor:'middle',rot:90}).style('font-weight','normal').attr('fill','#333');
big('TTQ 737-500 HULL LOSS ACCIDENT',97); big('17NOV13 -- FDR vs. SIMULATION DATA',74); big('LONGITUDINAL PARAMETERS',50);
T('EXPORT CONTROLLED ECCN: 9E991',13,410,{cls:'h',size:15.5,ls:0.6,anchor:'middle',rot:90});
T('PAGE',13,758,{cls:'h',size:15,ls:0.5,anchor:'middle',rot:90});
</script></body></html>
